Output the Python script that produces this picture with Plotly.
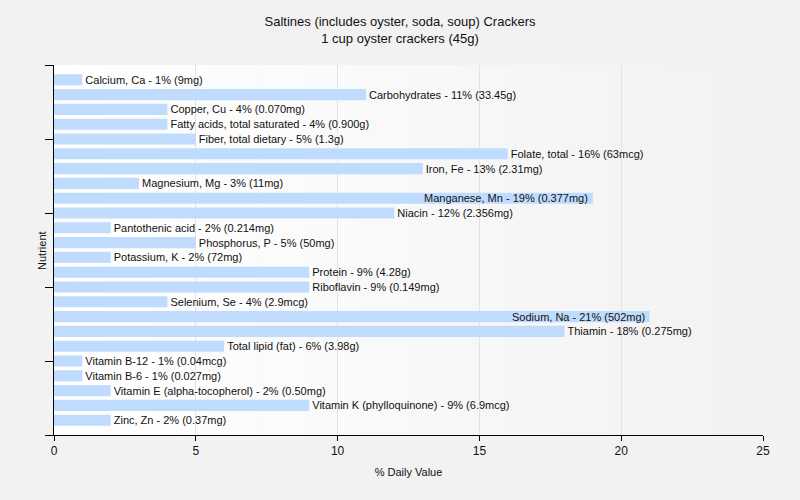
import plotly.graph_objects as go

title_line1 = "Saltines (includes oyster, soda, soup) Crackers"
title_line2 = "1 cup oyster crackers (45g)"

nutrients = [
    "Calcium, Ca", "Carbohydrates", "Copper, Cu", "Fatty acids, total saturated",
    "Fiber, total dietary", "Folate, total", "Iron, Fe", "Magnesium, Mg",
    "Manganese, Mn", "Niacin", "Pantothenic acid", "Phosphorus, P",
    "Potassium, K", "Protein", "Riboflavin", "Selenium, Se", "Sodium, Na",
    "Thiamin", "Total lipid (fat)", "Vitamin B-12", "Vitamin B-6",
    "Vitamin E (alpha-tocopherol)", "Vitamin K (phylloquinone)", "Zinc, Zn",
]
daily_value_pct = [1, 11, 4, 4, 5, 16, 13, 3, 19, 12, 2, 5, 2, 9, 9, 4, 21, 18, 6, 1, 1, 2, 9, 2]
amounts = [
    "9mg", "33.45g", "0.070mg", "0.900g", "1.3g", "63mcg", "2.31mg", "11mg",
    "0.377mg", "2.356mg", "0.214mg", "50mg", "72mg", "4.28g", "0.149mg",
    "2.9mcg", "502mg", "0.275mg", "3.98g", "0.04mcg", "0.027mg", "0.50mg",
    "6.9mcg", "0.37mg",
]
x_ticks = [0, 5, 10, 15, 20, 25]
inside_labels = ["Manganese, Mn", "Sodium, Na"]

positions = list(range(1, len(nutrients) + 1))
labels = [f"{n} - {v}% ({a})" for n, v, a in zip(nutrients, daily_value_pct, amounts)]
bar_text = ["" if n in inside_labels else t for n, t in zip(nutrients, labels)]

font = "Liberation Sans, Arial, sans-serif"
txt_color = "#111111"

fig = go.Figure(
    go.Bar(
        x=daily_value_pct,
        y=positions,
        orientation="h",
        text=bar_text,
        textposition="outside",
        constraintext="none",
        textfont=dict(family=font, size=11, color=txt_color),
        outsidetextfont=dict(family=font, size=11, color=txt_color),
        marker=dict(color="rgb(191,219,254)", line=dict(width=0)),
        width=0.75,
        cliponaxis=False,
        hovertext=labels,
        hoverinfo="text",
    )
)

annotations = []
for n, v, p, t in zip(nutrients, daily_value_pct, positions, labels):
    if n in inside_labels:
        annotations.append(dict(
            x=v, y=p, xref="x", yref="y", text=t, showarrow=False,
            xanchor="right", yanchor="middle", xshift=-3,
            font=dict(family=font, size=11, color=txt_color),
        ))
annotations.append(dict(
    x=-0.017, y=0.5, xref="paper", yref="paper", text="Nutrient",
    showarrow=False, textangle=-90, xanchor="center", yanchor="middle",
    font=dict(family=font, size=11, color=txt_color),
))

# horizontal background gradient (white -> light grey) behind the plot area
n_strips = 28
shapes = []
for i in range(n_strips):
    c = round(255 - (255 - 242) * i / (n_strips - 1))
    shapes.append(dict(
        type="rect", xref="x domain", yref="y domain",
        x0=i / n_strips, x1=(i + 1) / n_strips, y0=0, y1=1,
        fillcolor=f"rgb({c},{c},{c})", line=dict(width=0), layer="below",
    ))

fig.update_layout(
    width=800,
    height=500,
    paper_bgcolor="#f2f2f2",
    plot_bgcolor="#f8f8f8",
    margin=dict(l=54, r=37, t=65, b=65),
    title=dict(
        text=f"{title_line1}<br>{title_line2}",
        x=0.5,
        xanchor="center",
        y=0.948,
        yanchor="top",
        font=dict(family=font, size=13, color=txt_color),
    ),
    font=dict(family=font, size=12, color=txt_color),
    showlegend=False,
    annotations=annotations,
    shapes=shapes,
)

fig.update_xaxes(
    range=[0, 25],
    tickvals=x_ticks,
    ticks="outside",
    ticklen=5,
    tickcolor="#000000",
    showline=True,
    linecolor="#000000",
    linewidth=1,
    showgrid=True,
    gridcolor="#e2e2e2",
    zeroline=False,
    automargin=False,
    title=dict(text="% Daily Value", font=dict(family=font, size=11), standoff=10),
    tickfont=dict(family=font, size=12),
)

fig.update_yaxes(
    range=[25, 0],
    tickvals=[0, 5, 10, 15, 20, 25],
    showticklabels=False,
    ticks="outside",
    ticklen=8,
    tickcolor="#000000",
    showline=True,
    linecolor="#000000",
    linewidth=1,
    showgrid=False,
    zeroline=False,
    automargin=False,
)

fig.write_html(
    "out.html",
    config={"displayModeBar": False},
    post_script="document.body.style.margin='0';document.body.style.background='#f2f2f2';",
)
